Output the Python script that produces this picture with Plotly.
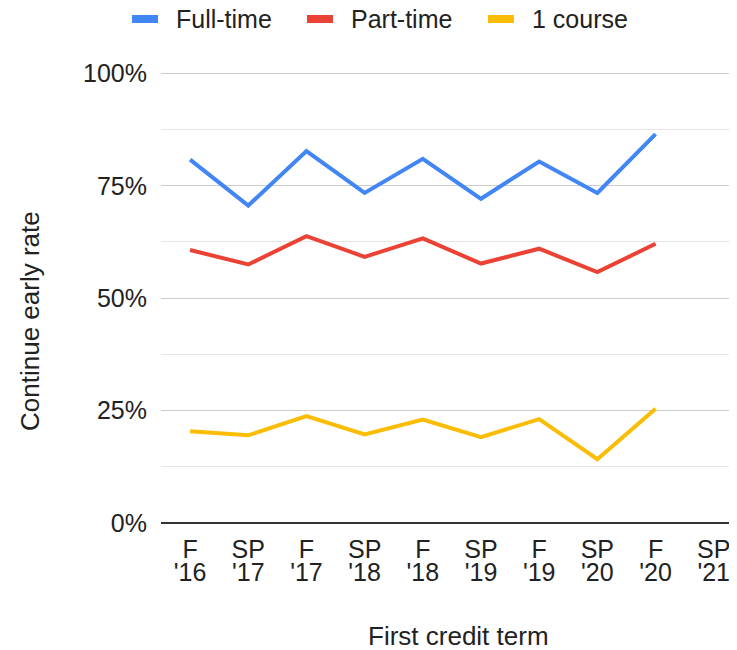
import plotly.graph_objects as go

terms = ["F '16", "SP '17", "F '17", "SP '18", "F '18", "SP '19", "F '19", "SP '20", "F '20", "SP '21"]
term_season = ["F", "SP", "F", "SP", "F", "SP", "F", "SP", "F", "SP"]
term_year = ["'16", "'17", "'17", "'18", "'18", "'19", "'19", "'20", "'20", "'21"]

full_time = [0.808, 0.706, 0.827, 0.734, 0.810, 0.721, 0.804, 0.734, 0.865, None]
part_time = [0.607, 0.575, 0.638, 0.592, 0.633, 0.577, 0.610, 0.558, 0.621, None]
one_course = [0.204, 0.195, 0.238, 0.197, 0.230, 0.191, 0.231, 0.142, 0.254, None]

series_names = ["Full-time", "Part-time", "1 course"]
series_values = [full_time, part_time, one_course]
series_colors = ["#4285F4", "#EA4335", "#FBBC04"]

y_ticks = [0, 0.25, 0.5, 0.75, 1.0]
y_tick_labels = ["0%", "25%", "50%", "75%", "100%"]

FONT = "Arial, Liberation Sans, sans-serif"
FS = 25
TFS = 26
TXT = "#222222"

W_FIG, H_FIG = 729, 642
M_L, M_R, M_T, M_B = 153, 0, 64, 127
PW = W_FIG - M_L - M_R
PH = H_FIG - M_T - M_B


def px_x(px):
    return (px - M_L) / PW


def px_y(py):
    return (H_FIG - M_B - py) / PH


fig = go.Figure()
for name, vals, color in zip(series_names, series_values, series_colors):
    fig.add_trace(go.Scatter(x=terms, y=vals, mode="lines", name=name,
                             line=dict(color=color, width=4), xaxis="x", yaxis="y",
                             showlegend=False))
# invisible trace on second x axis (second line of tick labels)
fig.add_trace(go.Scatter(x=terms, y=[None] * len(terms), mode="lines",
                         showlegend=False, hoverinfo="skip", xaxis="x2", yaxis="y"))

# legend drawn as swatches + labels across the top
legend_swatch_left = [124, 299, 480]
shapes = []
annotations = []
for name, color, left in zip(series_names, series_colors, legend_swatch_left):
    shapes.append(dict(type="rect", xref="paper", yref="paper",
                       x0=px_x(left), x1=px_x(left + 26), y0=px_y(15), y1=px_y(7),
                       fillcolor=color, line=dict(width=0)))
    annotations.append(dict(text=name, xref="paper", yref="paper",
                            x=px_x(left + 42), y=px_y(11), xanchor="left", yanchor="middle",
                            showarrow=False, font=dict(size=FS, color=TXT)))

annotations += [
    dict(text="Continue early rate", xref="paper", yref="paper",
         x=-0.2274, y=0.448, xanchor="center", yanchor="middle",
         textangle=-90, showarrow=False, font=dict(size=TFS, color=TXT)),
    dict(text="First credit term", xref="paper", yref="paper",
         x=0.516, y=px_y(628), xanchor="center", yanchor="middle",
         showarrow=False, font=dict(size=TFS, color=TXT)),
]

fig.update_layout(
    width=W_FIG, height=H_FIG,
    margin=dict(l=M_L, r=M_R, t=M_T, b=M_B),
    paper_bgcolor="white", plot_bgcolor="white",
    font=dict(family=FONT, size=FS, color=TXT),
    showlegend=False,
    xaxis=dict(type="category", categoryorder="array", categoryarray=terms,
               range=[-0.5, 9.4], tickvals=terms, ticktext=term_season,
               showgrid=False, zeroline=False, showline=False, ticks="",
               ticklabelstandoff=9, tickfont=dict(size=FS, color=TXT)),
    xaxis2=dict(type="category", categoryorder="array", categoryarray=terms,
                overlaying="x", matches="x", side="bottom", anchor="y",
                tickvals=terms, ticktext=term_year,
                showgrid=False, zeroline=False, showline=False, ticks="",
                ticklabelstandoff=32, tickfont=dict(size=FS, color=TXT)),
    yaxis=dict(range=[0, 1.003], tickvals=y_ticks, ticktext=y_tick_labels,
               showgrid=True, gridcolor="#cccccc", gridwidth=1.3,
               zeroline=True, zerolinecolor="#333333", zerolinewidth=2,
               showline=False, ticks="", ticklabelstandoff=13,
               tickfont=dict(size=FS, color=TXT),
               minor=dict(tickvals=[0.125, 0.375, 0.625, 0.875], showgrid=True,
                          gridcolor="#e6e6e6", gridwidth=1.3)),
    shapes=shapes,
    annotations=annotations,
)

fig.write_html("out.html")
